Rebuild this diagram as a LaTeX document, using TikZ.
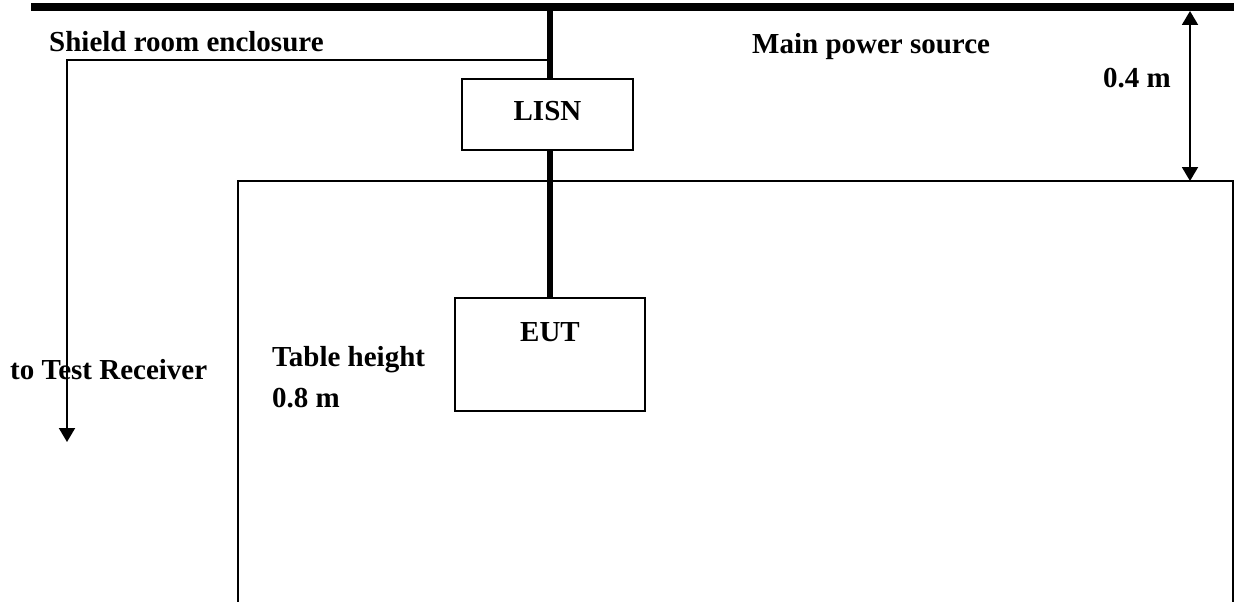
\documentclass[tikz,border=0pt]{standalone}
\usepackage{fontspec}
\setmainfont{Liberation Serif}
\usetikzlibrary{arrows.meta}
\begin{document}
\begin{tikzpicture}[x=1pt,y=-1pt,
  lbl/.style={font=\fontsize{29}{35}\selectfont\bfseries, inner sep=0pt, anchor=base west},
  boxed/.style={draw, line width=2pt, font=\fontsize{29}{35}\selectfont\bfseries, inner sep=0pt, text height=20pt},
  thin/.style={line width=2pt},
  power/.style={line width=6pt},
  tri/.tip={Triangle[width=16pt,length=14pt]}
]
\useasboundingbox (0,0) rectangle (1234,602);
\fill[white] (0,0) rectangle (1234,602);

% texts
\node[lbl] (shield) at (49,52) {Shield room enclosure};
\node[lbl] (mains) at (752,54) {Main power source};
\node[lbl] (dist) at (1103,88) {0.4 m};
\node[lbl] (tableh) at (272,366) {Table height};
\node[lbl] (tablem) at (272,407) {0.8 m};
\node[lbl] (recv) at (10,379) {to Test Receiver};

% boxes
\node[boxed, minimum width=171pt, minimum height=71pt, text depth=9pt] (lisn) at (547.5,114.5) {LISN};
\node[boxed, minimum width=190pt, minimum height=113pt, text depth=47pt] (eut) at (550,354.5) {EUT};

% coordinates
\coordinate (barL) at (31,7);
\coordinate (barR) at (1234,7);
\coordinate (tap) at (550,7);
\coordinate (shTap) at (550,60);
\coordinate (shCorner) at (67,60);
\coordinate (shEnd) at (67,442);
\coordinate (dimTop) at (1190,11);
\coordinate (dimBot) at (1190,181);
\coordinate (tblBL) at (238,603);
\coordinate (tblTL) at (238,181);
\coordinate (tblTR) at (1233,181);
\coordinate (tblBR) at (1233,603);

% table
\draw[thin] (tblBL) -- (tblTL) -- (tblTR) -- (tblBR);

% shield room line to receiver
\draw[thin, -tri] (shTap) -- (shCorner) -- (shEnd);

% dimension arrow
\draw[thin, tri-tri] (dimTop) -- (dimBot);

% power line
\draw[line width=8pt] (barL) -- (barR);
\draw[power] (tap) -- (tap |- lisn.north);
\draw[power] (tap |- lisn.south) -- (eut.north);
\end{tikzpicture}
\end{document}
